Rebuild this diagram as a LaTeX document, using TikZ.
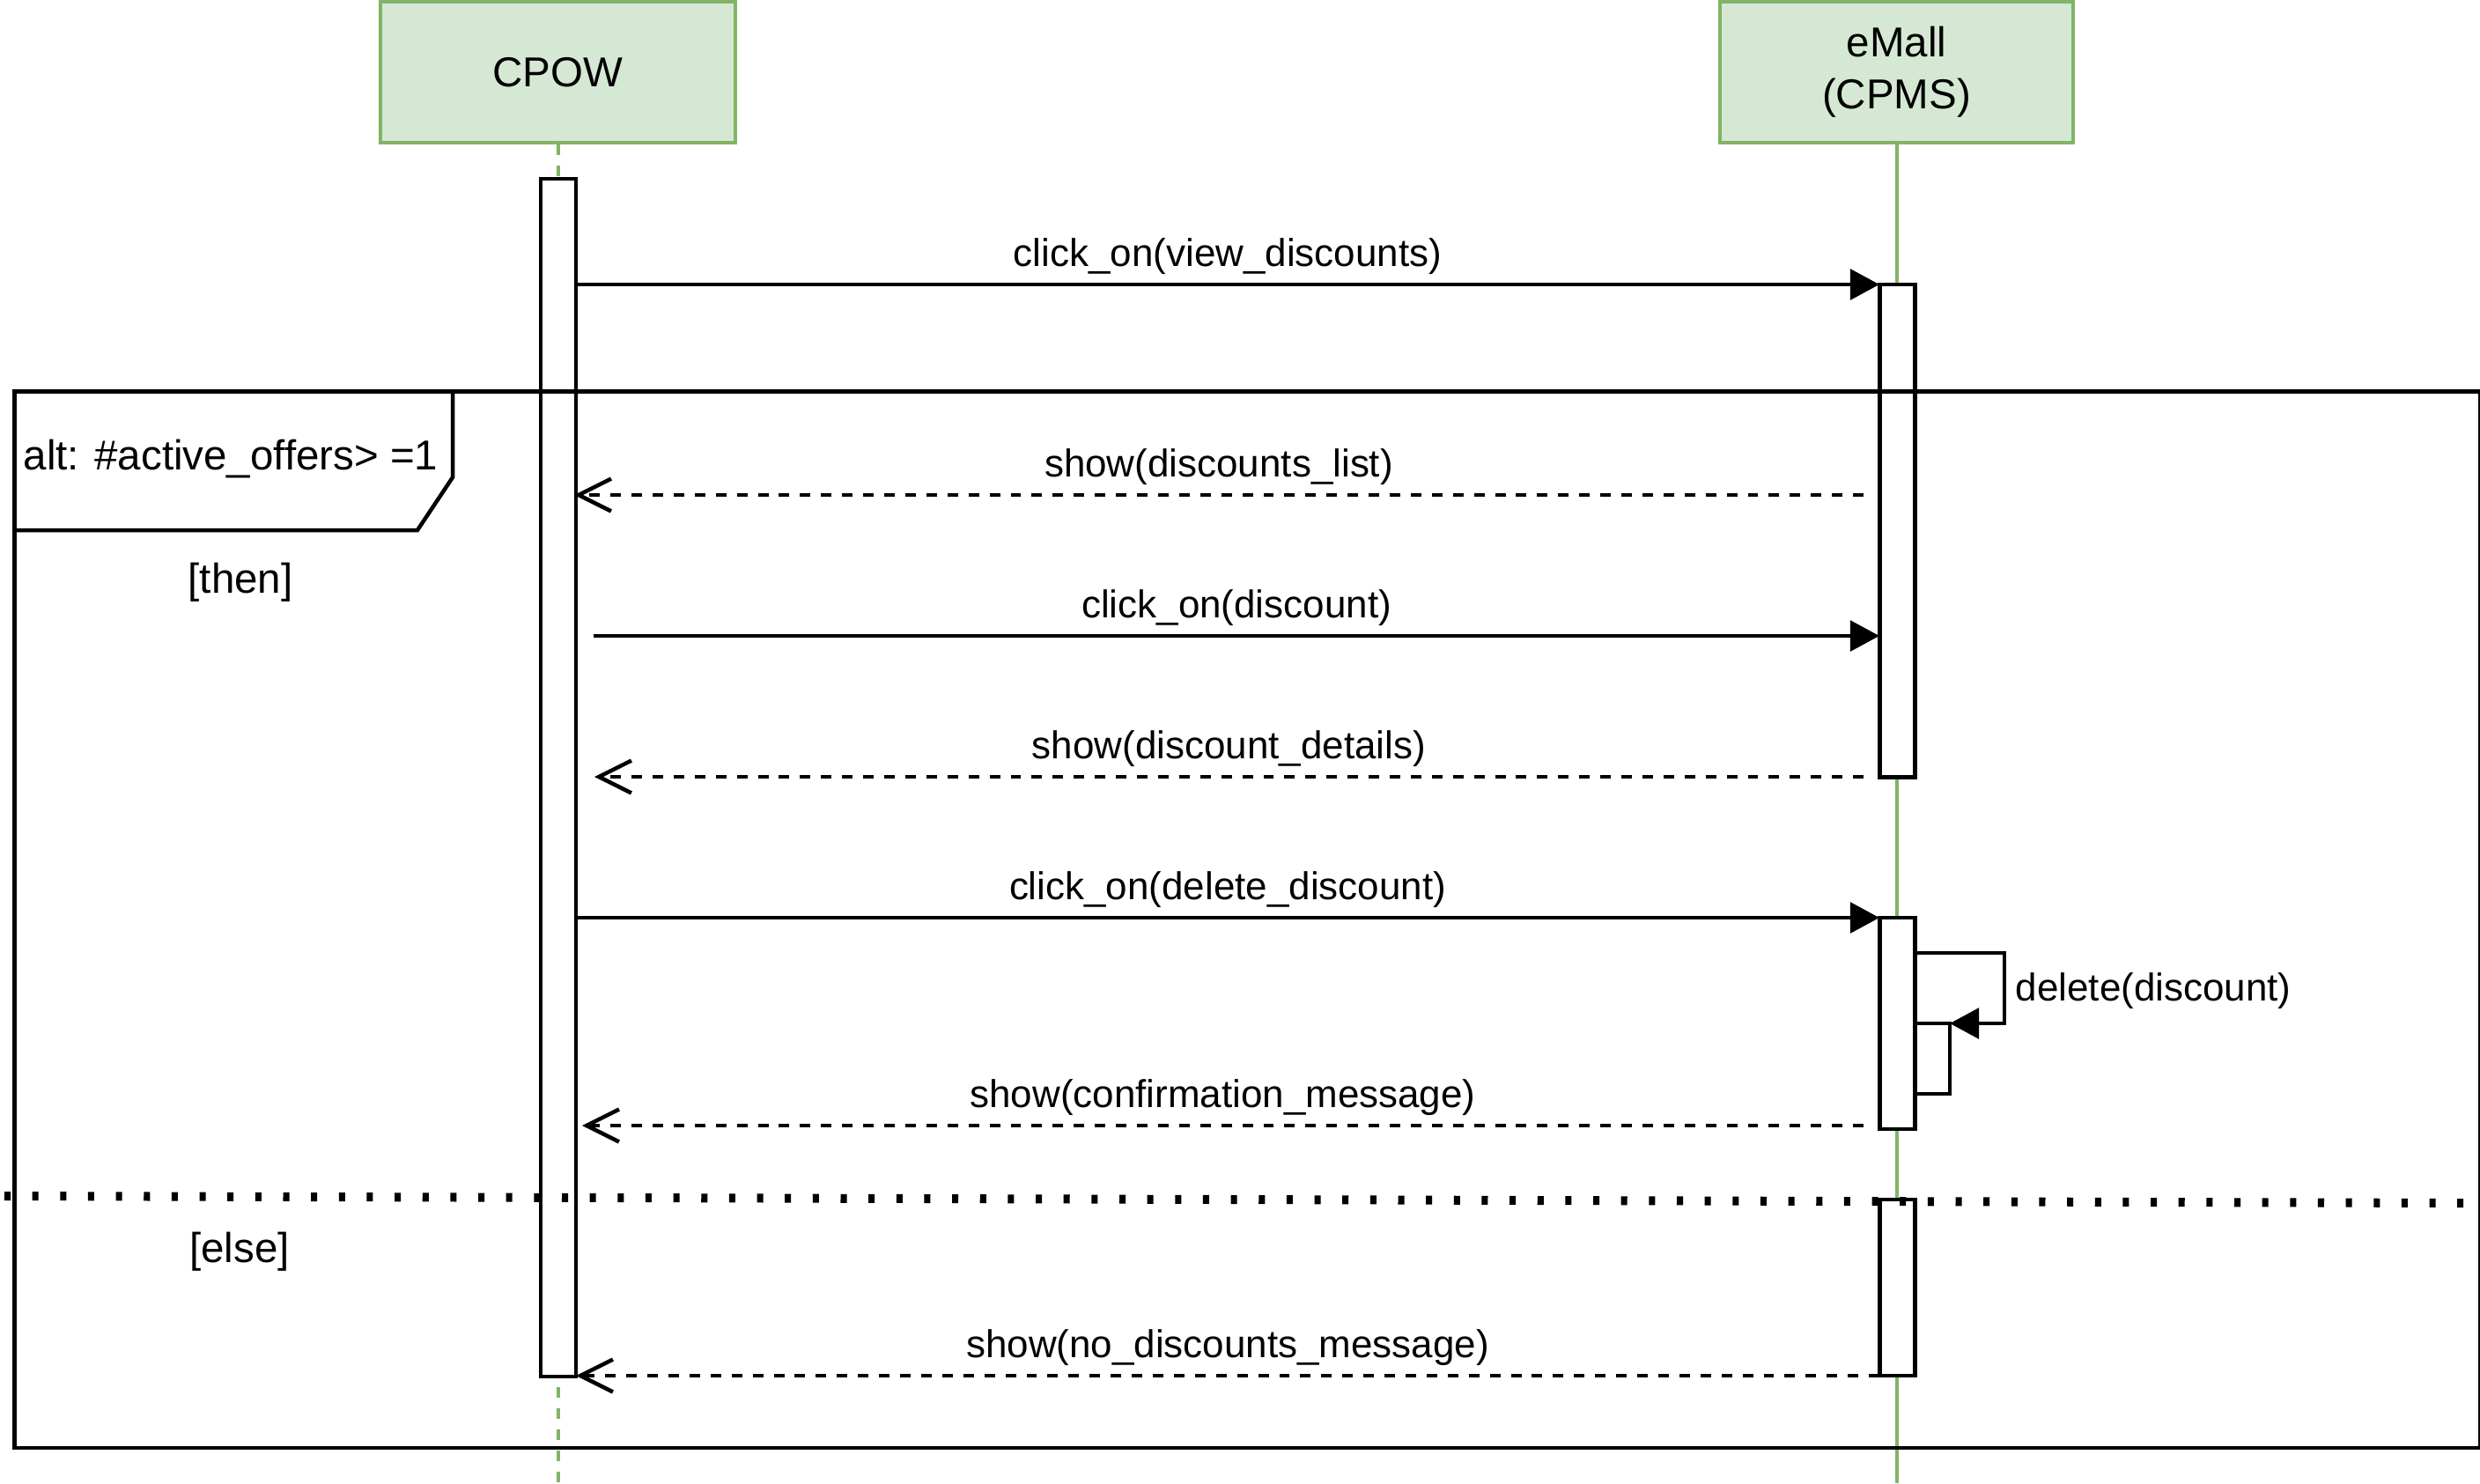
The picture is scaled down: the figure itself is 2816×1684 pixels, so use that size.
\documentclass[tikz,border=0pt]{standalone}
\usepackage{fontspec}
\setmainfont{Liberation Sans}
\usetikzlibrary{arrows.meta}
\definecolor{hdrfill}{HTML}{D5E8D4}
\definecolor{hdrline}{HTML}{82B366}
\begin{document}
\begin{tikzpicture}[x=0.01cm,y=-0.01cm,
  lw/.style={line width=0.045cm},
  header/.style={draw=hdrline, fill=hdrfill, line width=0.045cm, inner sep=0pt,
    minimum height=1.6cm, font=\fontsize{13.5}{16.7}\selectfont, align=center},
  actbar/.style={draw=black, fill=white, line width=0.045cm, minimum width=0.4cm,
    inner sep=0pt, outer sep=0pt, anchor=north},
  msg/.style={line width=0.045cm, -{Triangle[length=9.4pt,width=9.8pt]}},
  ret/.style={line width=0.045cm, dash pattern=on 3.4pt off 3.4pt,
    -{Straight Barb[length=10.5pt,width=10.5pt]}},
  lbl/.style={font=\fontsize{12.5}{15}\selectfont, anchor=base, inner sep=0pt},
  big/.style={font=\fontsize{13.5}{16.7}\selectfont, inner sep=0pt}
]
\path[use as bounding box] (0,0) rectangle (2816,1684);

% headers
\node[header, minimum width=4.03cm] (cpow) at (633.5,82) {CPOW};
\node[header, minimum width=4.01cm] (emall) at (2153.5,82) {eMall\\(CPMS)};

% lifelines
\coordinate (cpowEnd) at (633.5,1684);
\coordinate (emallEnd) at (2153.5,1684);
\draw[hdrline, line width=0.04cm, dash pattern=on 3.4pt off 3.4pt] (cpow.south) -- (cpowEnd);
\draw[hdrline, line width=0.04cm] (emall.south) -- (emallEnd);

% activation bars
\node[actbar, minimum height=13.59cm] (cb) at (634,203) {};
\node[actbar, minimum height=5.59cm] (e1) at (2154.5,323) {};
\node[actbar, minimum height=2.40cm] (e2) at (2154.5,1042) {};
\node[actbar, minimum height=0.80cm, minimum width=0.39cm] (n1) at (2194.5,1162) {};
\node[actbar, minimum height=2.00cm] (e3) at (2154.5,1362) {};

% alt frame
\node[draw, lw, inner sep=0pt, anchor=north west, minimum width=27.98cm, minimum height=11.99cm] (frame) at (14,442) {};
\draw[lw] (14,602) -- (474,602) -- (514,542) -- (514,442);
\node[big] (altlbl) at (262,521) {alt: \#active\_offers> =1};
\node[big] (then) at (273,661) {[then]};
\node[big] (else) at (272,1421) {[else]};

% separator
\coordinate (dl) at (5,1358);
\coordinate (dr) at (2797,1366);
\draw[line width=0.1cm, dash pattern=on 2pt off 7pt] (dl) -- (dr);

% messages
\coordinate (m1s) at (654,323);  \coordinate (m1e) at (2134,323);
\draw[msg] (m1s) -- (m1e);
\node[lbl] (l1) at (1394,302) {click\_on(view\_discounts)};

\coordinate (m2s) at (2116,562); \coordinate (m2e) at (652,562);
\draw[ret] (m2s) -- (m2e);
\node[lbl] (l2) at (1384,541) {show(discounts\_list)};

\coordinate (m3s) at (674,722);  \coordinate (m3e) at (2134,722);
\draw[msg] (m3s) -- (m3e);
\node[lbl] (l3) at (1404,701) {click\_on(discount)};

\coordinate (m4s) at (2116,882); \coordinate (m4e) at (675,882);
\draw[ret] (m4s) -- (m4e);
\node[lbl] (l4) at (1395.5,861) {show(discount\_details)};

\coordinate (m5s) at (654,1042); \coordinate (m5e) at (2134,1042);
\draw[msg] (m5s) -- (m5e);
\node[lbl] (l5) at (1394,1021) {click\_on(delete\_discount)};

\coordinate (s1) at (2175,1082); \coordinate (s2) at (2276,1082);
\coordinate (s3) at (2276,1162); \coordinate (s4) at (2214,1162);
\draw[msg] (s1) -- (s2) -- (s3) -- (s4);
\node[lbl, anchor=base west] (l6) at (2288,1136) {delete(discount)};

\coordinate (m7s) at (2116,1278); \coordinate (m7e) at (661,1278);
\draw[ret] (m7s) -- (m7e);
\node[lbl] (l7) at (1388.5,1257) {show(confirmation\_message)};

\coordinate (m8s) at (2134,1562); \coordinate (m8e) at (654,1562);
\draw[ret] (m8s) -- (m8e);
\node[lbl] (l8) at (1394,1541) {show(no\_discounts\_message)};
\end{tikzpicture}
\end{document}
